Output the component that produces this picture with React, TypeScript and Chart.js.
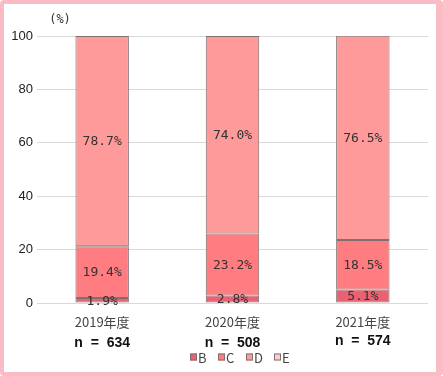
import React, { useEffect, useRef } from "react";
import { Chart, registerables } from "chart.js";

Chart.register(...registerables);

const categories = ["2019年度", "2020年度", "2021年度"];
const nLabels = ["n = 634", "n = 508", "n = 574"];
const seriesNames = ["B", "C", "D", "E"];
const seriesB = [1.9, 2.8, 5.1];
const seriesC = [19.4, 23.2, 18.5];
const seriesD = [78.7, 74.0, 76.5];
const seriesE = [0, 0, 0];
const yTicks = [0, 20, 40, 60, 80, 100];
const colors = ["#ea6272", "#ff7c80", "#ff9a9a", "#ffcccc"];

const INSET_L = 4;
const INSET_T = 4;
const W = 443 - 4 - 7;
const H = 376 - 4 - 4;

export default function App() {
  const ref = useRef<HTMLCanvasElement | null>(null);
  useEffect(() => {
    document.body.style.margin = "0";
    const canvas = ref.current;
    if (!canvas) return;
    const allSeries = [seriesB, seriesC, seriesD, seriesE];
    const labelPlugin = {
      id: "customLabels",
      afterDatasetsDraw(chart: any) {
        const ctx = chart.ctx;
        ctx.save();
        ctx.font = "13px 'DejaVu Sans Mono'";
        ctx.fillStyle = "#333";
        ctx.textAlign = "center";
        ctx.textBaseline = "middle";
        chart.data.datasets.forEach((ds: any, di: number) => {
          const meta = chart.getDatasetMeta(di);
          meta.data.forEach((bar: any, i: number) => {
            const v = ds.data[i];
            if (!v) return;
            const y = (bar.y + bar.base) / 2;
            ctx.fillText(v.toFixed(1) + "%", bar.x, y + 1);
          });
        });
        // (%) label
        ctx.font = "12px 'DejaVu Sans Mono'";
        ctx.fillStyle = "#333";
        ctx.textAlign = "center";
        ctx.fillText("(%)", 60 - INSET_L, 20 - INSET_T);
        // n labels
        const xs = chart.scales.x;
        ctx.font = "bold 14px 'Liberation Sans'";
        ctx.fillStyle = "#111";
        nLabels.forEach((t, i) => {
          const x = xs.getPixelForValue(i);
          ctx.fillText(t.replace(/ /g, "  "), x, (i === 2 ? 341 : 343) - INSET_T);
        });
        // legend
        ctx.font = "13px 'Noto Sans CJK JP'";
        ctx.textAlign = "left";
        const lx = [190, 218, 246, 274];
        seriesNames.forEach((s, i) => {
          const x = lx[i] - INSET_L;
          const y = 357 - INSET_T;
          ctx.fillStyle = colors[i];
          ctx.fillRect(x, y - 3.5, 7, 7);
          ctx.strokeStyle = "#807070";
          ctx.lineWidth = 1;
          ctx.strokeRect(x + 0.5, y - 3, 6, 6);
          ctx.fillStyle = "#444";
          ctx.fillText(s, x + 8, y + 1);
        });
        ctx.restore();
      },
    };
    const chart = new Chart(canvas, {
      type: "bar",
      data: {
        labels: categories,
        datasets: allSeries.map((d, i) => ({
          label: seriesNames[i],
          data: d,
          backgroundColor: colors[i],
          borderColor: "#7f7070",
          borderWidth: 1,
          borderSkipped: false,
          barPercentage: 0.41,
          categoryPercentage: 1,
        })),
      },
      options: {
        animation: false,
        responsive: false,
        maintainAspectRatio: false,
        layout: { padding: { top: 36 - INSET_T, right: 443 - 7 - 428, left: 0, bottom: 0 } },
        plugins: { legend: { display: false }, tooltip: { enabled: false } },
        scales: {
          x: {
            stacked: true,
            grid: { display: false },
            border: { display: false },
            ticks: { color: "#444", font: { size: 13, family: "'Noto Sans CJK JP'" }, padding: 3 },
            afterFit: (s: any) => {
              s.height = H - (303 - INSET_T);
            },
          },
          y: {
            stacked: true,
            min: 0,
            max: 100,
            afterBuildTicks: (s: any) => {
              s.ticks = yTicks.map((v) => ({ value: v }));
            },
            grid: { color: "#d9d9d9", drawTicks: false },
            border: { display: false },
            ticks: { color: "#222", font: { size: 13, family: "'Liberation Sans'" }, padding: 4 },
            afterFit: (s: any) => {
              s.width = 37 - INSET_L;
            },
          },
        },
      },
      plugins: [labelPlugin],
    });
    return () => chart.destroy();
  }, []);
  return (
    <div
      style={{
        position: "absolute",
        left: 0,
        top: 0,
        width: 443,
        height: 376,
        boxSizing: "border-box",
        background: "#fff",
        borderStyle: "solid",
        borderColor: "#f9bcc4",
        borderWidth: "4px 7px 4px 4px",
        borderRadius: 4,
      }}
    >
      <canvas ref={ref} width={W} height={H} style={{ display: "block", width: W, height: H }} />
    </div>
  );
}
